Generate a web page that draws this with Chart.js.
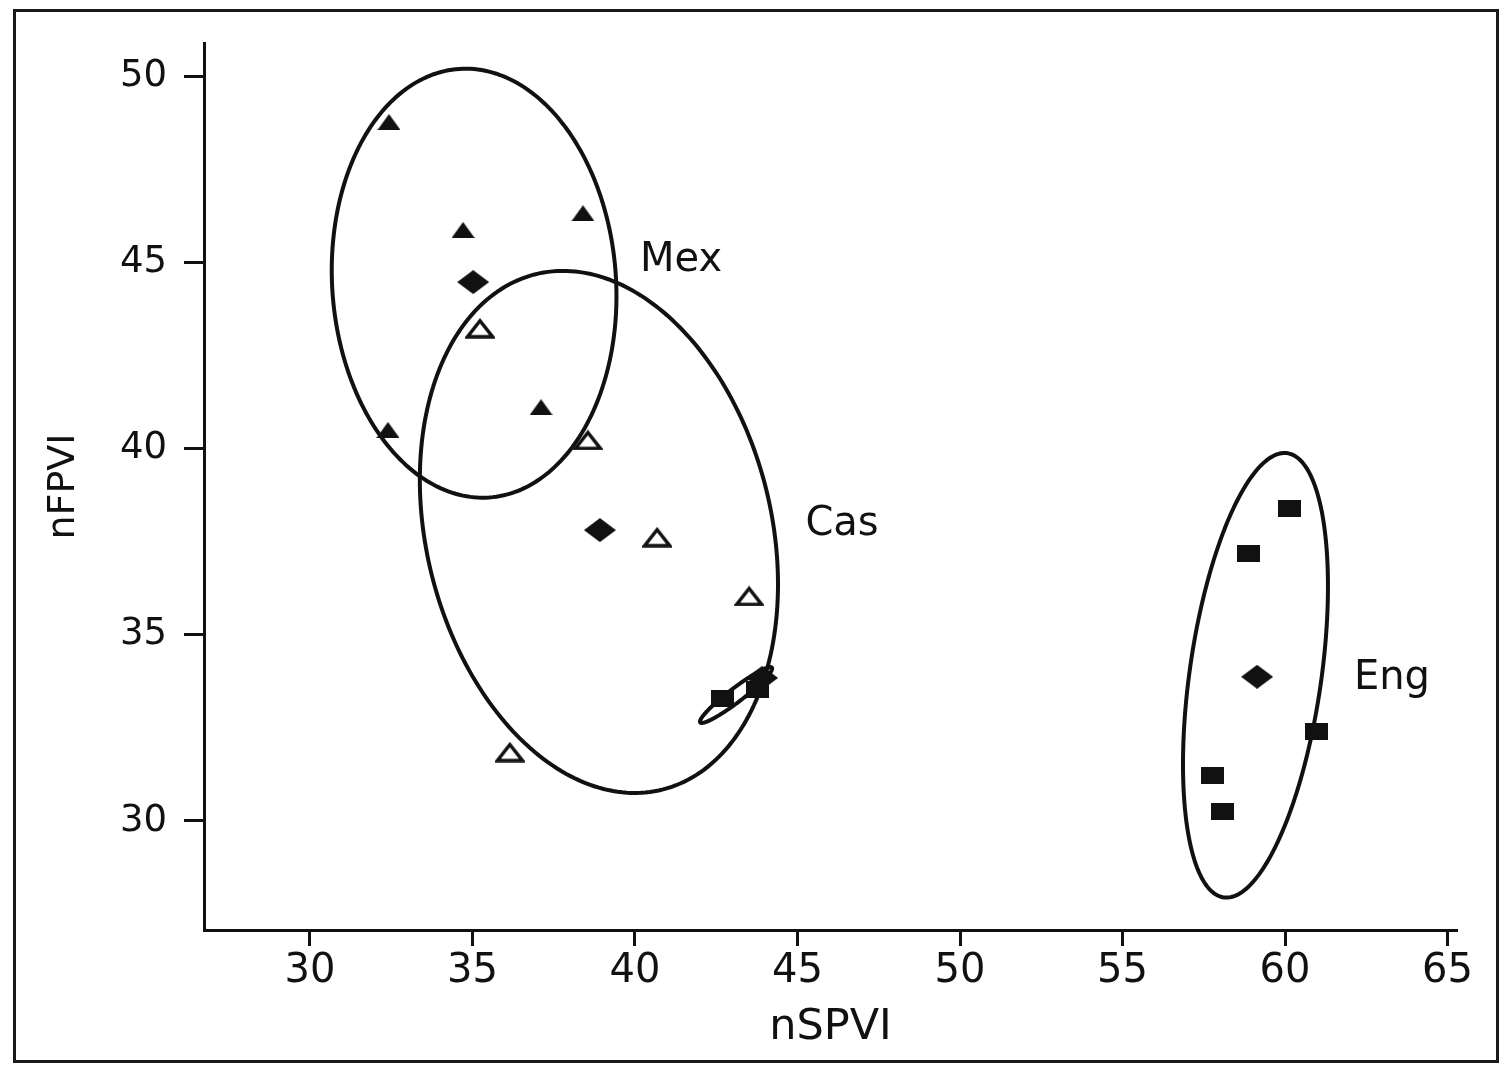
<!DOCTYPE html>
<html>
<head>
<title>nSPVI vs nFPVI</title>
<script src="https://cdn.jsdelivr.net/npm/chart.js"></script>
<style>
    body { margin: 0; background: #fff; }
    canvas { position: absolute; left: 0; top: 0; }
    #frame {
        position: absolute; left: 13px; top: 9px;
        width: 1486px; height: 1054px;
        border: 3px solid #1a1a1a; box-sizing: border-box;
        pointer-events: none;
    }
</style>
</head>
<body>
<canvas id="plot" width="1506" height="1069"></canvas>
<div id="frame"></div>
<script>
// Mex (filled triangles)
const mexX = [32.43, 34.71, 38.40, 37.11, 32.40];
const mexY = [48.77, 45.87, 46.32, 41.11, 40.50];
// Cas (open triangles)
const casX = [35.23, 38.55, 40.68, 43.51, 36.15];
const casY = [43.23, 40.23, 37.62, 36.04, 31.85];
// Eng (filled squares)
const engX = [60.15, 58.86, 60.98, 57.78, 58.09];
const engY = [38.40, 37.17, 32.39, 31.23, 30.24];
// small group inside the Cas ellipse
const smallX = [42.68, 43.78];
const smallY = [33.28, 33.52];
// group means (diamonds)
const meanX = [35.02, 38.92, 59.14, 43.91];
const meanY = [44.47, 37.81, 33.87, 33.84];
// ellipses: centre, half range in x, half range in y, correlation
const ellCx = [35.05, 38.89, 59.09, 43.11];
const ellCy = [44.44, 37.76, 33.91, 33.38];
const ellA = [4.38, 5.51, 2.23, 1.11];
const ellB = [5.76, 7.01, 5.97, 0.75];
const ellRho = [-0.06, -0.20, 0.40, 0.95];
// group labels
const groupNames = ['Mex', 'Cas', 'Eng'];
const nameX = [41.42, 46.37, 63.29];
const nameY = [45.17, 38.08, 33.93];
// axis ticks
const xTicks = [30, 35, 40, 45, 50, 55, 60, 65];
const yTicks = [30, 35, 40, 45, 50];

const INK = '#111';
const FONT = 'DejaVu Sans';

// marker images
function marker(w, h, draw) {
    const c = document.createElement('canvas');
    c.width = w; c.height = h;
    const g = c.getContext('2d');
    g.fillStyle = INK; g.strokeStyle = INK;
    draw(g, w, h);
    return c;
}
const triFilled = marker(23, 16, (g, w, h) => {
    g.beginPath(); g.moveTo(0, h); g.lineTo(w / 2, 0); g.lineTo(w, h); g.closePath(); g.fill();
});
const triOpen = marker(30, 21, (g, w, h) => {
    g.lineWidth = 3.5; g.lineJoin = 'miter';
    g.beginPath(); g.moveTo(2.5, h - 2); g.lineTo(w / 2, 3); g.lineTo(w - 2.5, h - 2); g.closePath(); g.stroke();
});
const square = marker(23, 17, (g, w, h) => { g.fillRect(0, 0, w, h); });
const diamond = marker(32, 24, (g, w, h) => {
    g.beginPath(); g.moveTo(0, h / 2); g.lineTo(w / 2, 0); g.lineTo(w, h / 2); g.lineTo(w / 2, h); g.closePath(); g.fill();
});

function pts(xs, ys) { return xs.map((v, i) => ({x: v, y: ys[i]})); }

const ellipsePlugin = {
    id: 'ellipses',
    beforeDatasetsDraw(chart) {
        const {ctx, scales: {x, y}} = chart;
        ctx.save();
        ctx.strokeStyle = INK;
        ctx.lineWidth = 4;
        for (let i = 0; i < ellCx.length; i++) {
            const d = Math.acos(ellRho[i]);
            ctx.beginPath();
            for (let k = 0; k <= 240; k++) {
                const t = k / 240 * 2 * Math.PI;
                const px = x.getPixelForValue(ellCx[i] + ellA[i] * Math.cos(t));
                const py = y.getPixelForValue(ellCy[i] + ellB[i] * Math.cos(t - d));
                if (k === 0) ctx.moveTo(px, py); else ctx.lineTo(px, py);
            }
            ctx.closePath();
            ctx.stroke();
        }
        ctx.restore();
    },
    afterDatasetsDraw(chart) {
        const {ctx, scales: {x, y}} = chart;
        const size = 40;
        ctx.save();
        ctx.fillStyle = INK;
        ctx.font = size + 'px "' + FONT + '"';
        ctx.textAlign = 'center';
        ctx.textBaseline = 'alphabetic';
        groupNames.forEach((name, i) => {
            ctx.fillText(name, x.getPixelForValue(nameX[i]), y.getPixelForValue(nameY[i]) + size * 0.365);
        });
        ctx.restore();
    }
};

const axisGrid = (len) => ({
    drawOnChartArea: false, drawTicks: true, tickLength: len,
    tickWidth: 3, tickColor: INK, color: INK
});

new Chart(document.getElementById('plot'), {
    type: 'scatter',
    data: {
        datasets: [
            {label: 'Mex', data: pts(mexX, mexY), pointStyle: triFilled},
            {label: 'Cas', data: pts(casX, casY), pointStyle: triOpen},
            {label: 'Eng', data: pts(engX, engY), pointStyle: square},
            {label: 'other', data: pts(smallX, smallY), pointStyle: square},
            {label: 'means', data: pts(meanX, meanY), pointStyle: diamond}
        ]
    },
    options: {
        responsive: false,
        animation: false,
        events: [],
        devicePixelRatio: 1,
        layout: {padding: {left: 0, right: 49, top: 43, bottom: 0}},
        plugins: {legend: {display: false}, tooltip: {enabled: false}},
        scales: {
            x: {
                type: 'linear', min: 26.74, max: 65.29,
                afterBuildTicks: s => { s.ticks = xTicks.map(v => ({value: v})); },
                afterFit: s => { s.height = 139; },
                border: {color: INK, width: 3},
                grid: axisGrid(16),
                ticks: {font: {family: FONT, size: 40}, color: INK, padding: 2, maxRotation: 0, autoSkip: false},
                title: {display: true, text: 'nSPVI', color: INK,
                        font: {family: FONT, size: 43}, padding: {top: 0, bottom: 15}}
            },
            y: {
                type: 'linear', min: 27.07, max: 50.89,
                afterBuildTicks: s => { s.ticks = yTicks.map(v => ({value: v})); },
                afterFit: s => { s.width = 204; },
                border: {color: INK, width: 3},
                grid: axisGrid(20),
                ticks: {font: {family: FONT, size: 37}, color: INK, padding: 17, autoSkip: false},
                title: {display: true, text: 'nFPVI', color: INK,
                        font: {family: FONT, size: 38}, padding: {top: 41, bottom: 0}}
            }
        }
    },
    plugins: [ellipsePlugin]
});
</script>
</body>
</html>
